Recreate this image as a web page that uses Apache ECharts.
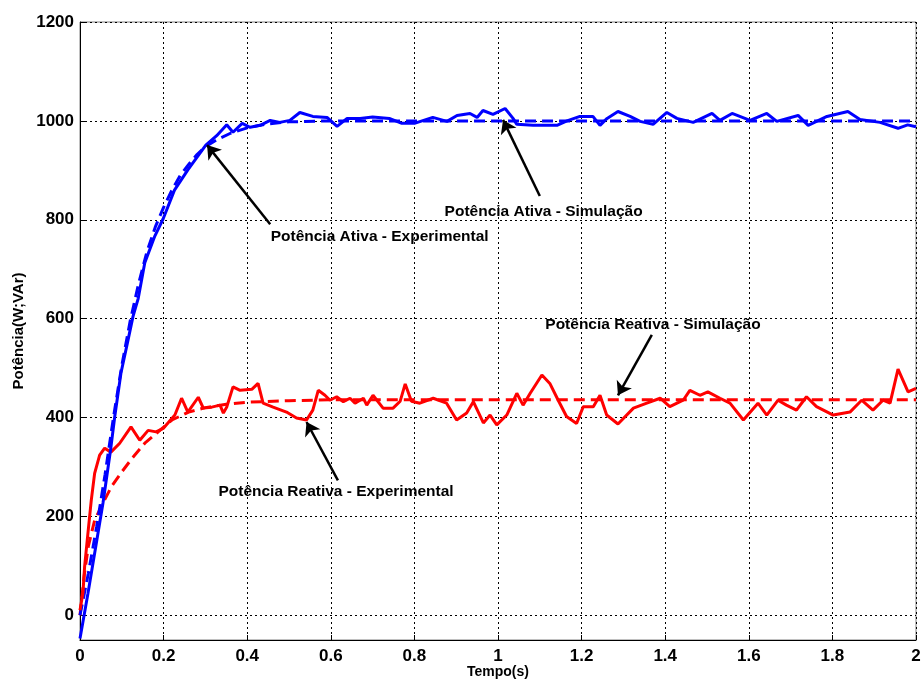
<!DOCTYPE html>
<html>
<head>
<meta charset="utf-8">
<script src="https://cdn.jsdelivr.net/npm/echarts@6/dist/echarts.min.js"></script>
<style>html,body{margin:0;padding:0;background:#fff}#c{width:921px;height:681px}</style>
</head>
<body>
<div id="c"></div>
<script>
// x tick values (s) and y tick values (W;VAr)
const xTicks = [0,0.2,0.4,0.6,0.8,1,1.2,1.4,1.6,1.8,2];
const yTicks = [0,200,400,600,800,1000,1200];

// Potência Ativa - Experimental [t, P]
const activeExp = [[0,-47],[0.019,44],[0.043,166],[0.055,227],[0.074,340],[0.083,401],[0.098,490],[0.115,557],[0.127,605],[0.139,640],[0.155,713],[0.179,767],[0.199,802],[0.226,860],[0.258,901],[0.301,951],[0.327,970],[0.351,992],[0.366,977],[0.388,995],[0.407,987],[0.431,991],[0.455,1001],[0.478,997],[0.502,1001],[0.526,1017],[0.557,1009],[0.591,1007],[0.615,989],[0.639,1005],[0.670,1005],[0.70,1008],[0.74,1005],[0.77,995],[0.80,995],[0.844,1007],[0.878,999],[0.902,1011],[0.933,1015],[0.950,1007],[0.964,1021],[0.988,1013],[1.017,1025],[1.036,1005],[1.045,993],[1.084,991],[1.141,991],[1.165,1000],[1.196,1009],[1.227,1009],[1.244,991],[1.261,1005],[1.287,1019],[1.316,1009],[1.340,999],[1.371,993],[1.404,1017],[1.428,1005],[1.467,997],[1.512,1015],[1.531,1001],[1.560,1015],[1.603,1001],[1.643,1015],[1.667,999],[1.718,1011],[1.742,991],[1.787,1009],[1.837,1019],[1.866,1003],[1.914,997],[1.957,985],[1.98,992],[2.0,988]];

// Potência Ativa - Simulação [t, P]
const activeSim = [[0,0],[0.02,85],[0.04,180],[0.06,285],[0.08,400],[0.10,505],[0.12,595],[0.14,670],[0.16,735],[0.18,785],[0.20,825],[0.22,860],[0.24,890],[0.26,912],[0.28,932],[0.30,948],[0.33,963],[0.36,975],[0.40,986],[0.45,994],[0.50,998],[0.60,1000],[2.0,1000]];

// Potência Reativa - Experimental [t, Q]
const reactiveExp = [[0,10],[0.007,45],[0.011,98],[0.019,166],[0.027,233],[0.035,287],[0.047,324],[0.059,338],[0.074,330],[0.095,348],[0.122,381],[0.143,354],[0.163,374],[0.182,371],[0.199,378],[0.227,405],[0.243,439],[0.258,411],[0.283,441],[0.295,419],[0.315,421],[0.335,425],[0.343,409],[0.351,421],[0.366,462],[0.383,455],[0.411,457],[0.426,469],[0.438,429],[0.462,421],[0.494,411],[0.518,399],[0.542,395],[0.557,415],[0.570,455],[0.586,445],[0.598,435],[0.614,442],[0.630,432],[0.646,439],[0.658,429],[0.678,439],[0.686,425],[0.701,445],[0.725,419],[0.749,419],[0.766,433],[0.778,468],[0.793,433],[0.813,429],[0.845,439],[0.877,429],[0.901,395],[0.925,409],[0.941,432],[0.965,389],[0.981,405],[0.997,385],[1.021,405],[1.045,449],[1.060,425],[1.077,449],[1.105,486],[1.124,469],[1.144,435],[1.164,402],[1.188,388],[1.204,422],[1.228,422],[1.244,445],[1.260,405],[1.287,387],[1.324,419],[1.356,429],[1.388,439],[1.411,422],[1.443,435],[1.459,455],[1.483,445],[1.502,452],[1.531,439],[1.555,429],[1.587,395],[1.622,429],[1.643,405],[1.670,435],[1.690,425],[1.714,415],[1.738,442],[1.762,422],[1.802,405],[1.842,411],[1.870,435],[1.897,415],[1.921,435],[1.938,429],[1.957,498],[1.981,452],[2.0,459]];

// Potência Reativa - Simulação [t, Q]
const reactiveSim = [[0,0],[0.01,80],[0.02,140],[0.035,192],[0.055,227],[0.075,260],[0.1,290],[0.125,318],[0.155,348],[0.187,371],[0.22,395],[0.26,411],[0.3,420],[0.35,427],[0.4,431],[0.5,434],[0.6,436],[2.0,436]];

// annotations: text, text anchor [t,v], arrow tail [t,v], arrow head [t,v]
const annoText = ['Potência Ativa - Experimental','Potência Ativa - Simulação','Potência Reativa - Simulação','Potência Reativa - Experimental'];
const annoTextAt = [[0.455,765],[0.871,816],[1.112,587],[0.330,249]];
const annoTail = [[0.455,791],[1.100,848],[1.368,567],[0.617,273]];
const annoHead = [[0.304,951],[1.012,1002],[1.287,445],[0.542,391]];

const chart = echarts.init(document.getElementById('c'), null, {renderer:'canvas'});
const font = '"Liberation Sans", Arial, sans-serif';

const option = {
  animation: false,
  backgroundColor: '#fff',
  grid: {left: 80, right: 5, top: 22, bottom: 41, show: true, borderColor: '#808080', borderWidth: 1, outerBoundsMode: 'none'},
  xAxis: {
    type: 'value', min: 0, max: 2, interval: 0.2,
    name: 'Tempo(s)', nameLocation: 'middle', nameGap: 25, nameMoveOverlap: false,
    nameTextStyle: {fontFamily: font, fontWeight: 'bold', fontSize: 14, color: '#000', verticalAlign: 'top'},
    axisLine: {show: true, onZero: false, lineStyle: {color: '#000', width: 1}},
    axisTick: {show: true, inside: true, length: 5, lineStyle: {color: '#000'}},
    axisLabel: {fontFamily: font, fontWeight: 'bold', fontSize: 17, color: '#000', margin: 8,
      formatter: v => String(Math.round(v*10)/10)},
    splitLine: {show: true, lineStyle: {color: '#000', type: [2,3], width: 1}}
  },
  yAxis: {
    type: 'value', min: -50, max: 1200,
    name: 'Potência(W;VAr)', nameLocation: 'middle', nameGap: 54, nameRotate: 90, nameMoveOverlap: false,
    nameTextStyle: {fontFamily: font, fontWeight: 'bold', fontSize: 15, color: '#000'},
    axisLine: {show: true, onZero: false, lineStyle: {color: '#000', width: 1}},
    axisTick: {show: true, inside: true, length: 5, customValues: yTicks, lineStyle: {color: '#000'}},
    axisLabel: {fontFamily: font, fontWeight: 'bold', fontSize: 17, color: '#000', margin: 6, customValues: yTicks,
      formatter: v => String(v)},
    splitLine: {show: true, lineStyle: {color: '#000', type: [2,3], width: 1}}
  },
  series: [
    {name: 'Potência Reativa - Simulação', type: 'line', data: reactiveSim, showSymbol: false, symbol: 'none',
      lineStyle: {color: '#ff0000', width: 3, type: [11,6]}, z: 2},
    {name: 'Potência Reativa - Experimental', type: 'line', data: reactiveExp, showSymbol: false, symbol: 'none',
      lineStyle: {color: '#ff0000', width: 3}, z: 3},
    {name: 'Potência Ativa - Simulação', type: 'line', data: activeSim, showSymbol: false, symbol: 'none',
      lineStyle: {color: '#0000ff', width: 3, type: [11,6]}, z: 2},
    {name: 'Potência Ativa - Experimental', type: 'line', data: activeExp, showSymbol: false, symbol: 'none',
      lineStyle: {color: '#0000ff', width: 3}, z: 3},
    {name: 'anno', type: 'line', data: [], silent: true, z: 10,
      markLine: {
        silent: true, animation: false,
        symbol: ['none','arrow'], symbolSize: 13,
        lineStyle: {color: '#000', width: 2.5, type: 'solid'},
        label: {show: false},
        data: annoTail.map((p, i) => [{coord: p}, {coord: annoHead[i]}])
      },
      markPoint: {
        silent: true, animation: false,
        symbol: 'rect', symbolSize: 1, itemStyle: {color: 'rgba(0,0,0,0)'},
        label: {show: true, position: 'right', distance: 0, color: '#000',
          fontFamily: font, fontWeight: 'bold', fontSize: 15.5},
        data: annoTextAt.map((p, i) => ({coord: p, value: annoText[i], label: {formatter: annoText[i]}}))
      }
    }
  ]
};
chart.setOption(option);
</script>
</body>
</html>
